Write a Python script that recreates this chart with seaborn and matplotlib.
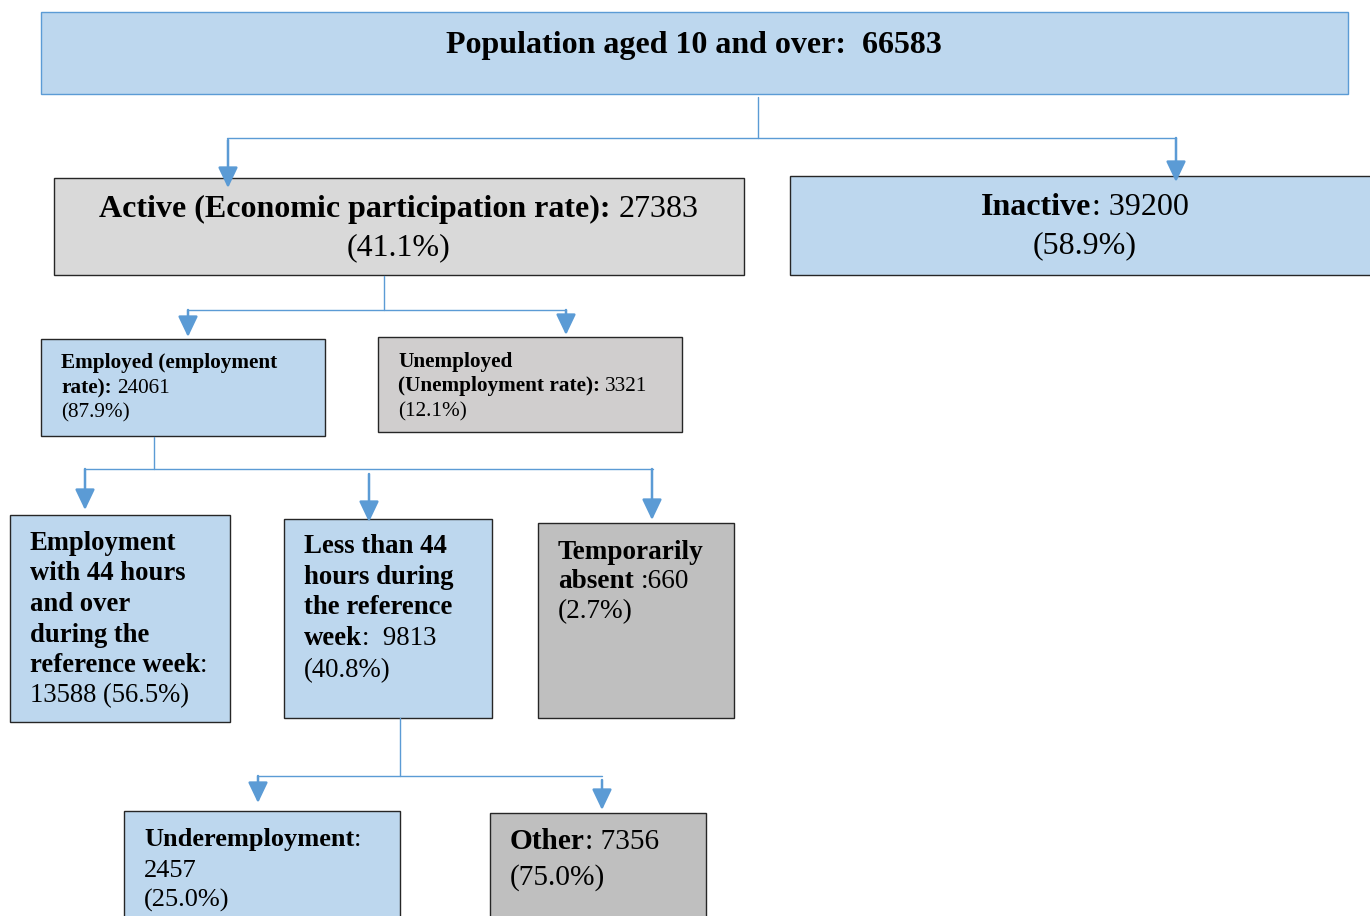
import numpy as np
import seaborn as sns
import matplotlib.pyplot as plt
from matplotlib.patches import Rectangle

# labour force breakdown (counts and shares)
names = ["Population aged 10 and over", "Active", "Inactive", "Employed", "Unemployed",
         "Employment 44h+", "Less than 44h", "Temporarily absent", "Underemployment", "Other"]
counts = [66583, 27383, 39200, 24061, 3321, 13588, 9813, 660, 2457, 7356]
shares = [None, 41.1, 58.9, 87.9, 12.1, 56.5, 40.8, 2.7, 25.0, 75.0]

BLUE = "#BDD7EE"
LINE = "#5B9BD5"

sns.set_theme(style="white")
plt.rcParams["font.family"] = ["Liberation Serif", "DejaVu Serif"]

fig = plt.figure(figsize=(13.7, 9.16), dpi=100)
ax = fig.add_axes([0, 0, 1, 1])
ax.set_xlim(0, 1370)
ax.set_ylim(916, 0)
ax.axis("off")
fig.canvas.draw()
renderer = fig.canvas.get_renderer()


def box(x0, y0, x1, y1, fc, ec="#262626"):
    ax.add_patch(Rectangle((x0, y0), x1 - x0, y1 - y0, facecolor=fc, edgecolor=ec, lw=1.0))


def rich(x, y, parts, size, ha="left"):
    # parts: list of (text, bold); leading spaces become a gap
    arts, xs, cur = [], [], 0.0
    for s, b in parts:
        n = len(s) - len(s.lstrip(" "))
        cur += n * 0.25 * size * 100 / 72
        t = ax.text(0, y, s.lstrip(" "), fontsize=size, fontweight="bold" if b else "normal",
                    va="baseline", ha="left", color="black")
        w = t.get_window_extent(renderer).width
        xs.append(cur)
        arts.append(t)
        cur += w
    start = x - cur / 2 if ha == "center" else x
    for t, dx in zip(arts, xs):
        t.set_x(start + dx)


def arrow(x, y0, y1):
    ax.annotate("", xy=(x, y1), xytext=(x, y0),
                arrowprops=dict(arrowstyle="-|>,head_length=1.05,head_width=0.5",
                                color=LINE, lw=1.8, shrinkA=0, shrinkB=0))


def hline(y, x0, x1):
    ax.plot([x0, x1], [y, y], color=LINE, lw=1.0)


def vline(x, y0, y1):
    ax.plot([x, x], [y0, y1], color=LINE, lw=1.0)


# top level
box(41, 12, 1348, 94, BLUE, ec=LINE)
rich(694, 53, [(f"Population aged 10 and over:  {counts[0]}", True)], 23, ha="center")

vline(758, 97, 138)
hline(138, 227, 1176)
arrow(228, 140, 188)
arrow(1176, 138, 182)

box(54, 178, 744, 275, "#D9D9D9")
rich(399, 217, [("Active (Economic participation rate):", True), (f" {counts[1]}", False)], 23, ha="center")
rich(399, 255, [(f"({shares[1]}%)", False)], 23, ha="center")

box(790, 176, 1372, 275, BLUE)
rich(1085, 215, [("Inactive", True), (f": {counts[2]}", False)], 23, ha="center")
rich(1085, 253, [(f"({shares[2]}%)", False)], 23, ha="center")

# active split
vline(384, 276, 310)
hline(310, 188, 566)
arrow(188, 310, 337)
arrow(566, 310, 335)

box(41, 339, 325, 436, BLUE)
rich(61, 368, [("Employed (employment", True)], 15.3)
rich(61, 393, [("rate):", True), (f" {counts[3]}", False)], 15.3)
rich(61, 417, [(f"({shares[3]}%)", False)], 15.3)

box(378, 337, 682, 432, "#D0CECE")
rich(398, 367, [("Unemployed", True)], 15.3)
rich(398, 391, [("(Unemployment rate):", True), (f" {counts[4]}", False)], 15.3)
rich(398, 416, [(f"({shares[4]}%)", False)], 15.3)

# employed split
vline(154, 437, 469)
hline(469, 85, 653)
arrow(85, 469, 510)
arrow(369, 474, 522)
arrow(652, 469, 520)

box(10, 515, 230, 722, BLUE)
for i, ln in enumerate(["Employment", "with 44 hours", "and over", "during the"]):
    rich(30, 550 + i * 30.5, [(ln, True)], 19.2)
rich(30, 672, [("reference week", True), (":", False)], 19.2)
rich(30, 702, [(f"{counts[5]} ({shares[5]}%)", False)], 19.2)

box(284, 519, 492, 718, BLUE)
for i, ln in enumerate(["Less than 44", "hours during", "the reference"]):
    rich(304, 553 + i * 30.5, [(ln, True)], 19.3)
rich(304, 645, [("week", True), (f":  {counts[6]}", False)], 19.3)
rich(304, 677, [(f"({shares[6]}%)", False)], 19.3)

box(538, 523, 734, 718, "#BFBFBF")
rich(558, 559, [("Temporarily", True)], 19.6)
rich(558, 588, [("absent", True), (f" :{counts[7]}", False)], 19.6)
rich(558, 618, [(f"({shares[7]}%)", False)], 19.6)

# less than 44 hours split
vline(400, 718, 776)
hline(776, 258, 602)
arrow(258, 776, 803)
arrow(602, 780, 810)

box(124, 811, 400, 930, BLUE)
rich(144, 846, [("Underemployment", True), (":", False)], 19)
rich(144, 877, [(f"{counts[8]}", False)], 19)
rich(144, 907, [(f"({shares[8]}%)", False)], 19)

box(490, 813, 706, 930, "#BFBFBF")
rich(510, 849, [("Other", True), (f": {counts[9]}", False)], 21.2)
rich(510, 885, [(f"({shares[9]}%)", False)], 21.2)

fig.savefig("out.png", dpi=100)
